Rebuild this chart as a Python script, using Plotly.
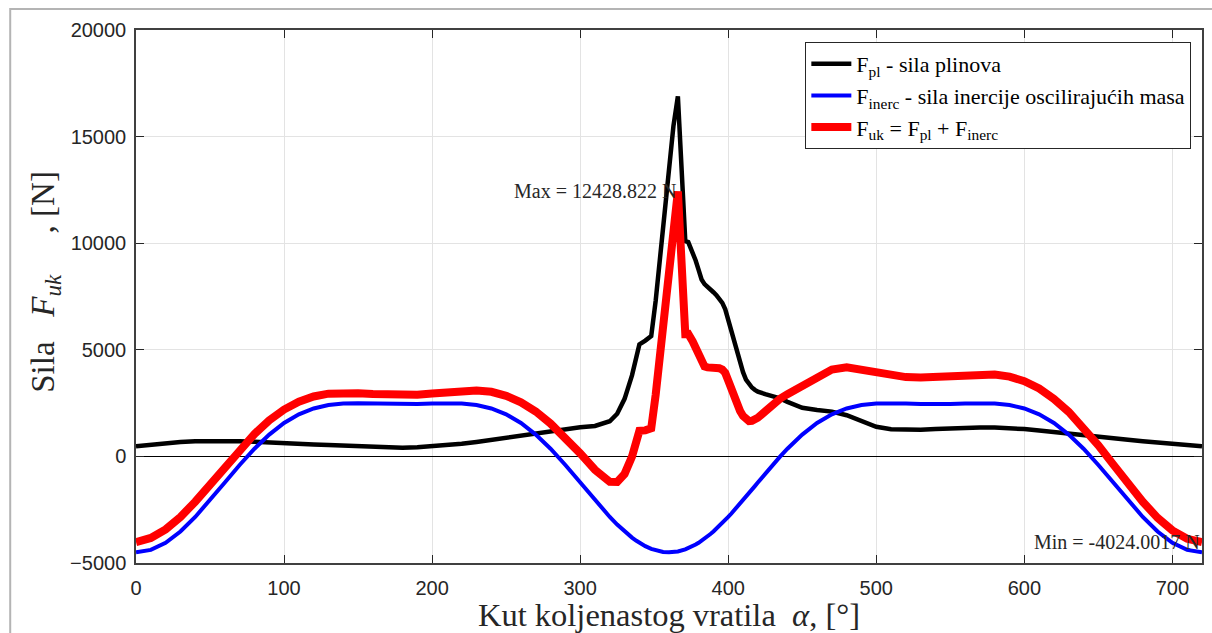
import plotly.graph_objects as go

# crank angle [deg]
alpha = [0, 10, 20, 30, 40, 50, 60, 70, 80, 90, 100, 110, 120, 130, 140, 150, 160, 170, 180,
         190, 200, 210, 220, 230, 240, 250, 260, 270, 280, 290, 300, 310, 315, 320, 325, 330,
         335, 338, 340, 344, 348, 351, 353, 356, 360, 363, 366, 371, 373, 376, 378, 380, 382,
         384, 386, 388, 390, 392, 394, 396, 398, 400, 402, 404, 406, 408, 410, 412, 414, 416,
         418, 420, 425, 430, 435, 440, 445, 450, 460, 470, 480, 490, 500, 510, 520, 530, 540,
         550, 560, 570, 580, 590, 600, 610, 620, 630, 640, 650, 660, 670, 680, 690, 700, 710, 720]

# gas force F_pl [N]
F_pl = [480, 560, 630, 680, 715, 725, 720, 710, 690, 670, 630, 590, 560, 530, 500, 470, 445, 425, 410,
        430, 470, 520, 590, 680, 780, 870, 970, 1080, 1180, 1290, 1370, 1430, 1520, 1650, 2000, 2700,
        3800, 4800, 5250, 5430, 5650, 7300, 8700, 10800, 13500, 15500, 16888, 10100, 10050, 9600, 9190, 8750, 8300,
        8080, 7930, 7820, 7700, 7560, 7400, 7200, 6900, 6400, 5850, 5300, 4800, 4350, 3950, 3600, 3380, 3230,
        3120, 3040, 2920, 2840, 2720, 2560, 2400, 2280, 2180, 2100, 1930, 1650, 1390, 1270, 1240, 1245, 1280,
        1320, 1345, 1350, 1360, 1330, 1280, 1210, 1130, 1060, 990, 920, 850, 780, 710, 640, 580, 520, 476]

# inertia force of oscillating masses F_inerc [N]
F_inerc = [-4500, -4386, -4051, -3522, -2840, -2056, -1225, -403, 360, 1025, 1567, 1974, 2250, 2412, 2484, 2497, 2480, 2459, 2450,
           2459, 2480, 2497, 2484, 2412, 2250, 1974, 1567, 1025, 360, -403, -1225, -2056, -2457, -2840, -3197, -3522,
           -3808, -3959, -4051, -4210, -4335, -4407, -4443, -4482, -4500, -4490, -4459, -4362, -4307, -4210, -4135, -4051, -3959,
           -3860, -3754, -3641, -3522, -3396, -3265, -3128, -2986, -2840, -2689, -2535, -2378, -2218, -2056, -1891, -1726, -1559,
           -1392, -1225, -810, -403, -11, 360, 707, 1025, 1567, 1974, 2250, 2412, 2484, 2497, 2480, 2459, 2450,
           2459, 2480, 2497, 2484, 2412, 2250, 1974, 1567, 1025, 360, -403, -1225, -2056, -2840, -3522, -4051, -4386, -4500]

# total force F_uk [N]
F_uk = [-4020, -3826, -3421, -2842, -2125, -1331, -505, 307, 1050, 1695, 2197, 2564, 2810, 2942, 2984, 2967, 2925, 2884, 2860,
        2889, 2950, 3017, 3074, 3092, 3030, 2844, 2537, 2105, 1540, 887, 145, -626, -937, -1190, -1197, -822,
        -8, 841, 1199, 1220, 1315, 2893, 4257, 6318, 9000, 11010, 12429, 5738, 5743, 5390, 5055, 4699, 4341,
        4220, 4176, 4179, 4178, 4164, 4135, 4072, 3914, 3560, 3161, 2765, 2422, 2132, 1894, 1709, 1654, 1671,
        1728, 1815, 2110, 2437, 2709, 2920, 3107, 3305, 3747, 4074, 4180, 4062, 3874, 3767, 3720, 3704, 3730,
        3779, 3825, 3847, 3844, 3742, 3530, 3184, 2697, 2085, 1350, 517, -375, -1276, -2130, -2882, -3471, -3866, -4024]

x_ticks = [0, 100, 200, 300, 400, 500, 600, 700]
y_ticks = [-5000, 0, 5000, 10000, 15000, 20000]

max_label = "Max = 12428.822 N"
min_label = "Min = -4024.0017 N"
max_point = (366, 12428.822)
min_point = (720, -4024.0017)

SERIF = "Liberation Serif, Times New Roman, serif"
SANS = "Liberation Sans, Arial, sans-serif"

fig = go.Figure()
fig.add_trace(go.Scatter(x=alpha, y=F_pl, mode="lines", line=dict(color="#000000", width=4.5),
                         name="F<sub>pl</sub> - sila plinova"))
fig.add_trace(go.Scatter(x=alpha, y=F_inerc, mode="lines", line=dict(color="#0000ff", width=4),
                         name="F<sub>inerc</sub> - sila inercije oscilirajućih masa"))
fig.add_trace(go.Scatter(x=alpha, y=F_uk, mode="lines", line=dict(color="#ff0000", width=8),
                         name="F<sub>uk</sub> = F<sub>pl</sub> + F<sub>inerc</sub>"))

fig.add_annotation(x=max_point[0], y=max_point[1], text=max_label, showarrow=False,
                   xanchor="right", yanchor="middle", font=dict(family=SERIF, size=20, color="#262626"))
fig.add_annotation(x=min_point[0], y=min_point[1], text=min_label, showarrow=False,
                   xanchor="right", yanchor="middle", font=dict(family=SERIF, size=20, color="#262626"))

# y-axis title placed as rotated text
fig.add_annotation(xref="paper", yref="paper", x=-0.0852, y=0.528, textangle=-90,
                   text="Sila&nbsp;&nbsp;&nbsp;<i>F</i><sub><i>uk</i></sub>&nbsp;&nbsp;&nbsp;&nbsp;&nbsp;, [N]",
                   showarrow=False, xanchor="center", yanchor="middle",
                   font=dict(family=SERIF, size=33, color="#262626"))

# outer figure frame
fig.add_shape(type="rect", xref="paper", yref="paper", x0=-0.118, x1=1.02, y0=-0.16, y1=1.0394,
              line=dict(color="#b4b4b4", width=2), fillcolor="rgba(0,0,0,0)", layer="below")

axis_common = dict(showline=True, linecolor="#404040", linewidth=1.5, mirror="ticks",
                   ticks="inside", ticklen=8, tickcolor="#262626", tickwidth=1,
                   showgrid=True, gridcolor="#e3e3e3", gridwidth=1,
                   tickfont=dict(family=SANS, size=20, color="#262626"))

fig.update_layout(
    width=1212, height=633,
    margin=dict(l=136, r=8, t=30, b=70),
    paper_bgcolor="white", plot_bgcolor="white",
    showlegend=True,
    legend=dict(x=0.990, xanchor="right", y=0.9775, yanchor="top", itemwidth=40,
                bgcolor="white", bordercolor="#262626", borderwidth=1,
                font=dict(family=SERIF, size=22, color="#000000"), tracegroupgap=0),
    xaxis=dict(range=[0, 720], tickvals=x_ticks, zeroline=False, ticklabelstandoff=6,
               title=dict(text="Kut koljenastog vratila  <i>α</i>, [°]",
                          font=dict(family=SERIF, size=32.5, color="#262626"), standoff=2),
               **axis_common),
    yaxis=dict(range=[-5000, 20000], tickvals=y_ticks, tickformat="d", zeroline=True,
               zerolinecolor="#000000", zerolinewidth=1, ticklabelstandoff=4,
               **axis_common),
)

fig.write_html("out.html")
